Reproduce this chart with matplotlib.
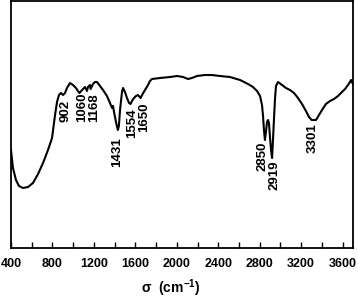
import matplotlib
matplotlib.use("Agg")
import matplotlib.pyplot as plt
from matplotlib.ticker import MultipleLocator

plt.rcParams['font.family'] = ['Liberation Sans', 'DejaVu Sans']
plt.rcParams['font.weight'] = 'bold'
plt.rcParams['mathtext.fontset'] = 'custom'
plt.rcParams['mathtext.rm'] = 'Liberation Sans:bold'
plt.rcParams['mathtext.bf'] = 'Liberation Sans:bold'

# FTIR spectrum, transmittance in arbitrary units
wavenumber = [400, 419, 448, 477, 516, 564, 612, 661, 709, 757, 796, 825, 844,
              863, 882, 902, 921, 940, 969, 998, 1027, 1046, 1060, 1095, 1114,
              1133, 1143, 1162, 1168, 1191, 1210, 1230, 1259, 1288, 1326, 1355,
              1375, 1384, 1394, 1413, 1431, 1441, 1452, 1471, 1481, 1500, 1519,
              1539, 1554, 1567, 1587, 1606, 1625, 1650, 1670, 1693, 1722, 1741,
              1760, 1838, 1934, 2002, 2060, 2108, 2146, 2195, 2272, 2339, 2417,
              2513, 2610, 2687, 2735, 2774, 2803, 2822, 2831, 2841, 2850, 2860,
              2870, 2880, 2889, 2899, 2909, 2919, 2928, 2938, 2948, 2957, 2977,
              3015, 3053, 3092, 3131, 3169, 3208, 3246, 3275, 3301, 3343, 3372,
              3401, 3439, 3478, 3517, 3555, 3594, 3623, 3652, 3671, 3681, 3690,
              3700]
transmittance = [98, 80, 68, 62, 60, 61, 65, 74, 85, 98, 110, 133, 146,
                 153, 155, 153, 155, 160, 165, 163, 160, 157, 155, 159, 161,
                 157, 161, 163, 159, 164, 166, 166, 162, 158, 152, 145,
                 140, 142, 136, 126, 118, 122, 138, 156, 160, 156, 150,
                 145, 144, 147, 150, 152, 153, 150, 154, 158, 163, 167,
                 169, 170, 171, 172, 171, 169, 170, 172, 173, 173, 172,
                 171, 168, 164, 161, 157, 152, 143, 133, 118, 108, 116,
                 126, 128, 125, 111, 98, 90, 108, 130, 150, 162, 166,
                 163, 160, 158, 155, 150, 144, 137, 131, 128, 128, 133,
                 138, 144, 147, 149, 152, 156, 159, 163, 166, 168, 166,
                 164]

peak_labels = ['902', '1060', '1168', '1431', '1554', '1650', '2850', '2919', '3301']
label_x = [926, 1085, 1201, 1423, 1572, 1683, 2825, 2947, 3314]
label_top = [148, 156, 155, 111, 140, 145, 106, 88, 125]

fig = plt.figure(figsize=(3.58, 3.0), dpi=100)
ax = fig.add_axes([11 / 358, 52 / 300, 342 / 358, 247 / 300])

ax.plot(wavenumber, transmittance, color='black', lw=1.5)

for lab, x, y in zip(peak_labels, label_x, label_top):
    ax.text(x, y, lab, rotation=90, ha='center', va='top',
            fontsize=9.5, fontweight='bold')

ax.set_xlim(400, 3700)
ax.set_ylim(0, 247)
ax.xaxis.set_major_locator(MultipleLocator(400))
ax.xaxis.set_minor_locator(MultipleLocator(200))
ax.tick_params(axis='x', which='both', direction='in', length=4, width=1,
               pad=7, labelsize=9)
ax.set_yticks([])
for sp in ax.spines.values():
    sp.set_linewidth(1.3)

ax.set_xlabel(r'σ  (cm$^{\mathbf{-1}}$)', fontsize=10, fontweight='bold')
ax.xaxis.set_label_coords(0.468, -0.118)

fig.savefig('out.png', dpi=100)
